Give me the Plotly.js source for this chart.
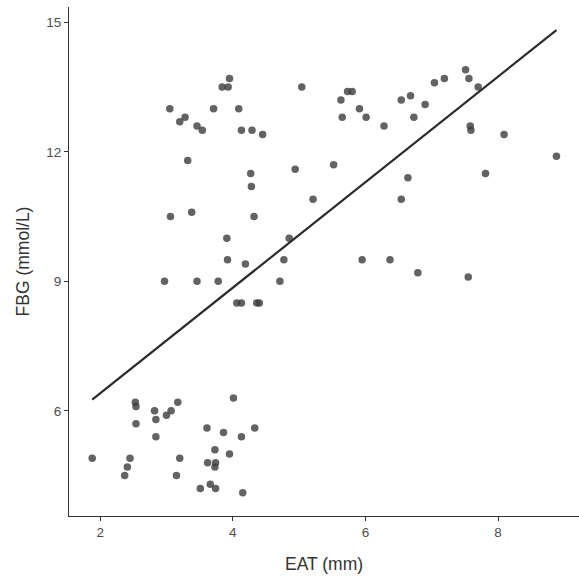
<!DOCTYPE html>
<html>
<head>
<meta charset="utf-8">
<script src="https://cdn.plot.ly/plotly-3.0.1.min.js"></script>
<style>html,body{margin:0;padding:0;background:#fff;}#chart{width:579px;height:582px;}</style>
</head>
<body>
<div id="chart"></div>
<script>
// EAT (mm) values of each subject
const eat = [
  3.05, 3.20, 3.28, 3.46, 3.54, 3.71, 3.84, 3.93, 3.95, 4.09, 4.13, 4.29, 4.45, 5.04,
  3.32, 4.27, 4.28, 4.94, 3.06, 3.38, 4.32, 3.91, 4.85, 5.21,
  5.63, 5.73, 5.80, 5.65, 5.91, 6.01, 6.28, 6.54, 6.68, 6.73, 6.90, 7.04, 7.19, 7.51, 7.56, 7.70,
  7.58, 7.59, 8.09, 8.88, 5.52, 6.64, 7.81, 6.54,
  3.92, 4.19, 4.77, 2.97, 3.46, 3.78, 4.71, 4.06, 4.13, 4.36, 4.40, 5.95, 6.37, 6.79, 7.55,
  1.88, 2.45, 2.41, 2.37, 2.53, 2.54, 2.54, 2.82, 2.84, 2.84, 3.00, 3.07, 3.17, 3.20, 3.15,
  3.61, 3.86, 4.01, 4.13, 4.33, 3.73, 3.95, 3.62, 3.74, 3.73, 3.51, 3.66, 3.74, 4.15
];
// FBG (mmol/L) values of each subject
const fbg = [
  13.0, 12.7, 12.8, 12.6, 12.5, 13.0, 13.5, 13.5, 13.7, 13.0, 12.5, 12.5, 12.4, 13.5,
  11.8, 11.5, 11.2, 11.6, 10.5, 10.6, 10.5, 10.0, 10.0, 10.9,
  13.2, 13.4, 13.4, 12.8, 13.0, 12.8, 12.6, 13.2, 13.3, 12.8, 13.1, 13.6, 13.7, 13.9, 13.7, 13.5,
  12.6, 12.5, 12.4, 11.9, 11.7, 11.4, 11.5, 10.9,
  9.5, 9.4, 9.5, 9.0, 9.0, 9.0, 9.0, 8.5, 8.5, 8.5, 8.5, 9.5, 9.5, 9.2, 9.1,
  4.9, 4.9, 4.7, 4.5, 6.2, 6.1, 5.7, 6.0, 5.8, 5.4, 5.9, 6.0, 6.2, 4.9, 4.5,
  5.6, 5.5, 6.3, 5.4, 5.6, 5.1, 5.0, 4.8, 4.8, 4.7, 4.2, 4.3, 4.2, 4.1
];
// Linear fit line, endpoints
const fitX = [1.88, 8.88];
const fitY = [6.26, 14.82];

const xTicks = [2, 4, 6, 8];
const yTicks = [6, 9, 12, 15];

const font = "Liberation Sans, Arial, sans-serif";

const traces = [
  {
    type: 'scatter', mode: 'markers', x: eat, y: fbg,
    marker: {size: 7.5, color: 'rgba(60,60,60,0.8)', line: {width: 0}},
    hoverinfo: 'x+y', showlegend: false
  },
  {
    type: 'scatter', mode: 'lines', x: fitX, y: fitY,
    line: {color: '#2b2b2b', width: 2.2}, hoverinfo: 'skip', showlegend: false
  }
];

const layout = {
  width: 579, height: 582,
  margin: {l: 69, r: 0, t: 7, b: 66, pad: 0},
  paper_bgcolor: '#ffffff', plot_bgcolor: '#ffffff',
  font: {family: font, color: '#4d4d4d'},
  xaxis: {
    range: [1.53, 9.22], tickvals: xTicks, ticktext: xTicks.map(String),
    showgrid: false, zeroline: false,
    showline: true, linecolor: '#333333', linewidth: 1.1,
    ticks: 'outside', ticklen: 4, tickwidth: 1.1, tickcolor: '#333333',
    tickfont: {size: 13.5, color: '#4d4d4d', family: font},
    title: {text: 'EAT (mm)', font: {size: 17.5, color: '#333333', family: font}, standoff: 18}
  },
  yaxis: {
    range: [3.564, 15.356], tickvals: yTicks, ticktext: yTicks.map(String),
    showgrid: false, zeroline: false,
    showline: true, linecolor: '#333333', linewidth: 1.1,
    ticks: 'outside', ticklen: 4, tickwidth: 1.1, tickcolor: '#333333',
    tickfont: {size: 13.5, color: '#4d4d4d', family: font},
    title: {text: 'FBG (mmol/L)', font: {size: 17.5, color: '#333333', family: font}, standoff: 12}
  }
};

Plotly.newPlot('chart', traces, layout, {displayModeBar: false, staticPlot: true});
</script>
</body>
</html>
